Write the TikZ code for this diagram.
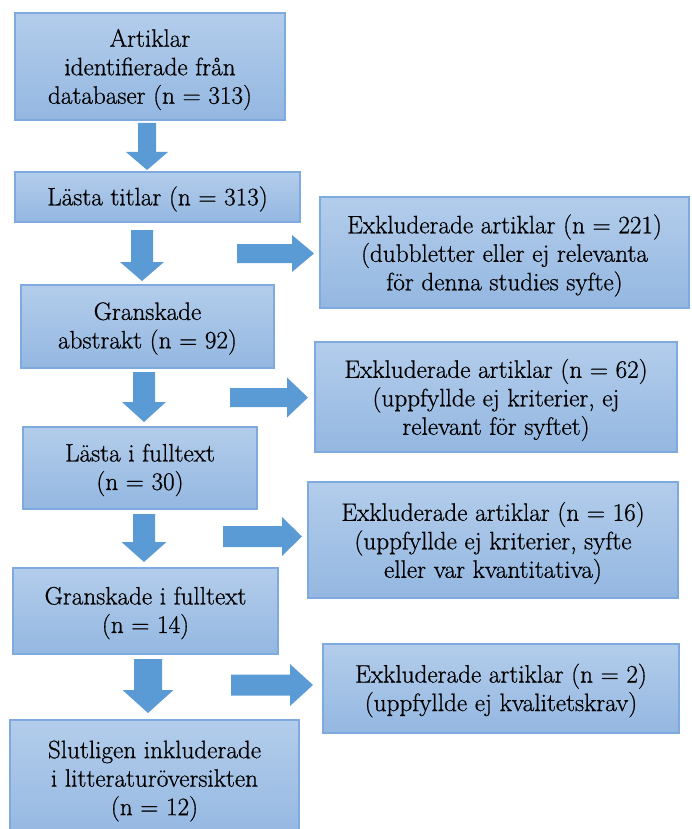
\documentclass[tikz,border=0pt]{standalone}
\usepackage{fontspec}
\newfontfamily\boxfont{Latin Modern Roman}[FakeBold=0.7]
\definecolor{boxtop}{HTML}{B3CDEB}
\definecolor{boxbot}{HTML}{94B7E1}
\definecolor{boxline}{HTML}{7EAADF}
\definecolor{arrowblue}{HTML}{5B9BD5}
% down arrow: cx, top, head start, tip, shaft half width, head half width
\newcommand\dnarrow[6]{%
  \fill[blockarrow] (#1-#5,#2) -- (#1+#5,#2) -- (#1+#5,#3) -- (#1+#6,#3) -- (#1,#4)
    -- (#1-#6,#3) -- (#1-#5,#3) -- cycle;}
% right arrow: cy, left, head start, tip, shaft half width, head half width
\newcommand\rtarrow[6]{%
  \fill[blockarrow] (#2,#1-#5) -- (#3,#1-#5) -- (#3,#1-#6) -- (#4,#1) -- (#3,#1+#6)
    -- (#3,#1+#5) -- (#2,#1+#5) -- cycle;}
\begin{document}
\begin{tikzpicture}[x=1pt,y=-1pt,
  box/.style={draw=boxline, line width=1.2pt, top color=boxtop, bottom color=boxbot,
    inner sep=0pt},
  txt/.style={inner sep=0pt, align=center, font=\boxfont\fontsize{25.2}{28.5}\selectfont, text=black},
  blockarrow/.style={fill=arrowblue, draw=none}]
\useasboundingbox (0,0) rectangle (691,829);

\node[box, minimum width=270pt, minimum height=107pt] (b1) at (150,66.5) {};
\node[box, minimum width=285pt, minimum height=50pt] (b2) at (157.5,197) {};
\node[box, minimum width=253pt, minimum height=83pt] (b3) at (147.5,326.5) {};
\node[box, minimum width=234pt, minimum height=82pt] (b4) at (140,468) {};
\node[box, minimum width=265pt, minimum height=86pt] (b5) at (145.5,611) {};
\node[box, minimum width=289pt, minimum height=120pt] (b6) at (154.5,780) {};
\node[box, minimum width=369pt, minimum height=111pt] (e1) at (504.5,252.5) {};
\node[box, minimum width=362pt, minimum height=110pt] (e2) at (496,397) {};
\node[box, minimum width=370pt, minimum height=116pt] (e3) at (493,540) {};
\node[box, minimum width=356pt, minimum height=89pt] (e4) at (501,688.5) {};

\node[txt] (t1) at ([yshift=-3pt]b1.center) {Artiklar\\identifierade från\\databaser (n = 313)};
\node[txt] (t2) at ([yshift=-2pt]b2.center) {Lästa titlar (n = 313)};
\node[txt] (t3) at ([yshift=-2pt]b3.center) {Granskade\\abstrakt (n = 92)};
\node[txt] (t4) at ([yshift=-2pt]b4.center) {Lästa i fulltext\\(n = 30)};
\node[txt] (t5) at ([yshift=-2pt]b5.center) {Granskade i fulltext\\(n = 14)};
\node[txt] (t6) at ([yshift=-1pt]b6.center) {Slutligen inkluderade\\i litteraturöversikten\\(n = 12)};
\node[txt] (te1) at ([yshift=-3pt]e1.center) {Exkluderade artiklar (n = 221)\\(dubbletter eller ej relevanta\\för denna studies syfte)};
\node[txt] (te2) at ([yshift=-3pt]e2.center) {Exkluderade artiklar (n = 62)\\(uppfyllde ej kriterier, ej\\relevant för syftet)};
\node[txt] (te3) at ([yshift=-3pt]e3.center) {Exkluderade artiklar (n = 16)\\(uppfyllde ej kriterier, syfte\\eller var kvantitativa)};
\node[txt] (te4) at ([yshift=-2pt]e4.center) {Exkluderade artiklar (n = 2)\\(uppfyllde ej kvalitetskrav)};

\dnarrow{147}{123}{152}{170}{9}{21}
\dnarrow{142}{230}{262}{281}{11}{22}
\dnarrow{144}{372}{402}{422}{11}{22}
\dnarrow{144}{514}{542}{562}{11}{22.5}
\dnarrow{148}{659}{690}{713}{14}{25.5}

\rtarrow{253.5}{237}{292}{314}{9.5}{18.5}
\rtarrow{397.5}{230}{287}{308}{9.5}{20}
\rtarrow{536.5}{223}{282}{302}{10.5}{19.5}
\rtarrow{685}{231}{290}{313}{10.5}{21}
\end{tikzpicture}
\end{document}
